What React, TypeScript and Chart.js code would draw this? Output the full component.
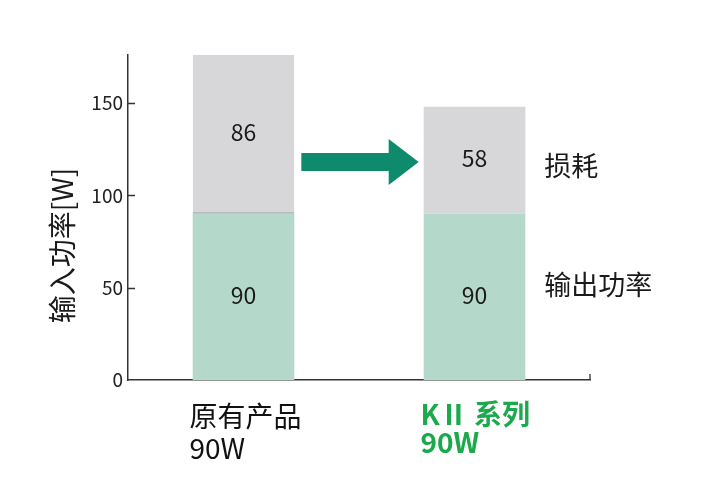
import React, { useEffect, useRef } from 'react';
import { Chart, registerables } from 'chart.js';

Chart.register(...registerables);

// ---- data ----
const categories: string[][] = [['原有产品', '90W'], ['KⅡ 系列', '90W']];
const outputPower: number[] = [90, 90];
const lossPower: number[] = [86, 58];
const yTickValues: number[] = [0, 50, 100, 150];
const yMax = 176;
const seriesNames: string[] = ['输出功率', '损耗'];
const yTitle = '输入功率[W]';

// annotation levels (data units)
const arrowLevel = 118;
const lossLabelLevel = 116;
const outputLabelLevel = 51.5;

const FONT = "'Noto Sans CJK SC', 'Noto Sans', sans-serif";
const GREEN_BAR = 'rgb(180,216,202)';
const GRAY_BAR = 'rgb(215,215,217)';
const ARROW = 'rgb(14,139,108)';
const GREEN_TEXT = 'rgb(27,169,76)';

const overlay = {
  id: 'overlay',
  beforeDraw(chart: any) {
    const c = chart.ctx;
    c.save();
    c.fillStyle = '#ffffff';
    c.fillRect(0, 0, chart.width, chart.height);
    c.restore();
  },
  afterDatasetsDraw(chart: any) {
    const c = chart.ctx;
    const ys = chart.scales.y;
    const xs = chart.scales.x;
    c.save();
    // segment value labels
    c.fillStyle = '#1a1a1a';
    c.font = `23px ${FONT}`;
    c.textAlign = 'center';
    c.textBaseline = 'middle';
    chart.data.datasets.forEach((ds: any, di: number) => {
      const meta = chart.getDatasetMeta(di);
      meta.data.forEach((el: any, i: number) => {
        const p = el.getProps(['x', 'y', 'base'], true);
        c.fillText(String(ds.data[i]), p.x, (p.y + p.base) / 2 - 2);
      });
    });

    // arrow between bars
    const meta0 = chart.getDatasetMeta(0);
    const b0 = meta0.data[0].getProps(['x', 'width'], true);
    const b1 = meta0.data[1].getProps(['x', 'width'], true);
    const ax0 = b0.x + b0.width / 2 + 7;
    const ax1 = b1.x - b1.width / 2 - 5;
    const cy = ys.getPixelForValue(arrowLevel);
    const headLen = 30;
    const headHalf = 23;
    const shaftHalf = 9;
    c.fillStyle = ARROW;
    c.beginPath();
    c.moveTo(ax0, cy - shaftHalf);
    c.lineTo(ax1 - headLen, cy - shaftHalf);
    c.lineTo(ax1 - headLen, cy - headHalf);
    c.lineTo(ax1, cy);
    c.lineTo(ax1 - headLen, cy + headHalf);
    c.lineTo(ax1 - headLen, cy + shaftHalf);
    c.lineTo(ax0, cy + shaftHalf);
    c.closePath();
    c.fill();

    // side labels
    c.fillStyle = '#1a1a1a';
    c.font = `27px ${FONT}`;
    c.textAlign = 'left';
    const sx = b1.x + b1.width / 2 + 19;
    c.fillText(seriesNames[1], sx, ys.getPixelForValue(lossLabelLevel));
    c.fillText(seriesNames[0], sx, ys.getPixelForValue(outputLabelLevel));

    // tick marks (inside) on y axis and end tick on x axis
    c.strokeStyle = '#333';
    c.lineWidth = 1.3;
    c.beginPath();
    yTickValues.forEach((v) => {
      if (v === 0) return;
      const py = Math.round(ys.getPixelForValue(v)) + 0.5;
      c.moveTo(xs.left, py);
      c.lineTo(xs.left + 7, py);
    });
    c.moveTo(xs.right, ys.bottom);
    c.lineTo(xs.right, ys.bottom - 6);
    c.stroke();
    c.restore();
  },
  afterDraw(chart: any) {
    const c = chart.ctx;
    const ys = chart.scales.y;
    c.save();
    c.fillStyle = '#1a1a1a';
    c.font = `28px ${FONT}`;
    c.textAlign = 'center';
    c.textBaseline = 'middle';
    c.translate(62, (ys.top + ys.bottom) / 2 + 28);
    c.rotate(-Math.PI / 2);
    c.fillText(yTitle, 0, 0);
    c.restore();
  },
};

export default function App() {
  const ref = useRef<HTMLCanvasElement | null>(null);
  useEffect(() => {
    document.body.style.margin = '0';
    const canvas = ref.current;
    if (!canvas) return;
    const chart = new Chart(canvas, {
      type: 'bar',
      data: {
        labels: categories,
        datasets: [
          {
            label: seriesNames[0],
            data: outputPower,
            backgroundColor: GREEN_BAR,
            borderWidth: 0,
            barPercentage: 0.44,
            categoryPercentage: 1,
          },
          {
            label: seriesNames[1],
            data: lossPower,
            backgroundColor: GRAY_BAR,
            borderColor: 'rgb(150,150,150)',
            borderSkipped: false,
            borderWidth: (ctx: any) =>
              ctx.dataIndex === 0 ? { top: 0, left: 0, right: 0, bottom: 1.5 } : 0,
            barPercentage: 0.44,
            categoryPercentage: 1,
          },
        ],
      },
      options: {
        responsive: false,
        animation: false,
        layout: { padding: { left: 0, right: 114, top: 55, bottom: 0 } },
        plugins: {
          legend: { display: false },
          tooltip: { enabled: false },
          title: { display: false },
        },
        scales: {
          x: {
            stacked: true,
            afterFit: (s: any) => {
              s.height = 122;
            },
            grid: { display: false, drawTicks: false },
            border: { display: true, color: '#333', width: 1.5 },
            ticks: {
              align: 'start',
              labelOffset: -54,
              padding: 20,
              color: (ctx: any) => (ctx.index === 1 ? GREEN_TEXT : '#111'),
              font: (ctx: any) =>
                ctx.index === 1
                  ? { family: FONT, size: 28, weight: 'bold', lineHeight: 1.0 }
                  : { family: FONT, size: 28, weight: 'normal', lineHeight: 1.16 },
            },
          },
          y: {
            stacked: true,
            min: 0,
            max: yMax,
            afterFit: (s: any) => {
              s.width = 128;
            },
            afterBuildTicks: (s: any) => {
              s.ticks = yTickValues.map((v) => ({ value: v }));
            },
            grid: { display: false, drawTicks: false },
            border: { display: true, color: '#333', width: 1.5 },
            ticks: {
              padding: 5,
              color: '#222',
              font: { family: FONT, size: 19 },
            },
          },
        },
      },
      plugins: [overlay],
    } as any);
    return () => chart.destroy();
  }, []);
  return (
    <div style={{ width: 704, height: 502 }}>
      <canvas ref={ref} width={704} height={502} style={{ display: 'block' }} />
    </div>
  );
}
